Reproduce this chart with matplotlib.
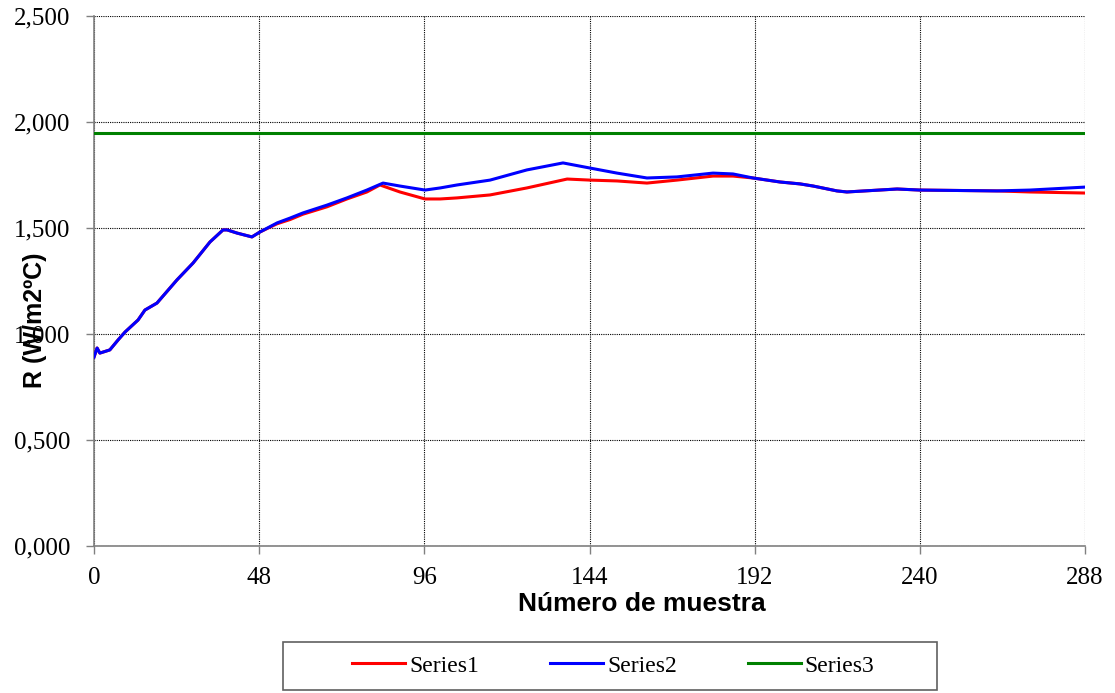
import matplotlib

matplotlib.use("Agg")
import matplotlib.pyplot as plt
from matplotlib.patches import Rectangle
from matplotlib.ticker import FuncFormatter

# Series1 (red)
s1_x = [0, 0.9, 1.7, 4.6, 7.0, 9.0, 12.8, 14.8, 18.3, 24.1, 28.8, 33.7, 37.5, 38.7,
        41.6, 45.9, 48.2, 53.2, 57.0, 60.7, 67.7, 73.5, 79.3, 83.1, 88.9, 96.2, 100.6,
        105.5, 115.1, 125.8, 137.5, 144.1, 152.0, 160.7, 169.4, 179.9, 185.7, 191.5,
        199.4, 205.2, 209.0, 215.9, 218.8, 233.4, 240.0, 262.4, 272.0, 288]
s1_y = [0.891, 0.934, 0.910, 0.925, 0.972, 1.009, 1.066, 1.113, 1.146, 1.255, 1.335,
        1.434, 1.491, 1.491, 1.476, 1.458, 1.481, 1.520, 1.540, 1.565, 1.600, 1.637,
        1.670, 1.703, 1.670, 1.637, 1.637, 1.642, 1.656, 1.689, 1.731, 1.726, 1.722,
        1.712, 1.726, 1.745, 1.745, 1.736, 1.717, 1.708, 1.698, 1.675, 1.670, 1.684,
        1.679, 1.675, 1.670, 1.665]

# Series2 (blue)
s2_x = [0, 0.9, 1.7, 4.6, 7.0, 9.0, 12.8, 14.8, 18.3, 24.1, 28.8, 33.7, 37.5, 38.7,
        41.6, 45.9, 48.2, 53.2, 57.0, 60.7, 67.7, 73.5, 79.3, 84.0, 88.9, 96.2, 100.6,
        105.5, 115.1, 125.8, 136.3, 144.1, 152.0, 160.7, 169.4, 179.9, 185.7, 191.5,
        199.4, 205.2, 209.0, 215.9, 218.8, 233.4, 240.0, 262.4, 272.0, 288]
s2_y = [0.891, 0.934, 0.910, 0.925, 0.972, 1.009, 1.066, 1.113, 1.146, 1.255, 1.335,
        1.434, 1.491, 1.491, 1.476, 1.458, 1.481, 1.524, 1.547, 1.571, 1.608, 1.642,
        1.679, 1.712, 1.698, 1.679, 1.689, 1.703, 1.726, 1.774, 1.807, 1.783, 1.759,
        1.736, 1.741, 1.759, 1.755, 1.736, 1.717, 1.708, 1.698, 1.675, 1.670, 1.684,
        1.679, 1.675, 1.679, 1.693]

# Series3 (green reference level)
s3_x = [0, 288]
s3_y = [1.95, 1.95]

x_ticks = [0, 48, 96, 144, 192, 240, 288]
y_ticks = [0.0, 0.5, 1.0, 1.5, 2.0, 2.5]

serif = "Liberation Serif"
sans = "Liberation Sans"

fig = plt.figure(figsize=(11.15, 6.93), dpi=100)
ax = fig.add_axes([0.0843, 0.2121, 0.8888, 0.7648])

ax.plot(s1_x, s1_y, color="#ff0000", lw=2.2, label="Series1", zorder=3)
ax.plot(s2_x, s2_y, color="#0000ff", lw=2.2, label="Series2", zorder=4)
ax.plot(s3_x, s3_y, color="#008000", lw=2.2, label="Series3", zorder=3)

ax.set_xlim(0, 288)
ax.set_ylim(0, 2.5)
ax.set_xticks(x_ticks)
ax.set_yticks(y_ticks)
ax.yaxis.set_major_formatter(FuncFormatter(lambda v, _: f"{v:.3f}".replace(".", ",")))

ax.grid(True, color="black", linestyle=(0, (1, 1)), linewidth=0.8)
ax.set_axisbelow(True)
for side in ("top", "right"):
    ax.spines[side].set_visible(False)
for side in ("left", "bottom"):
    ax.spines[side].set_color("#808080")
    ax.spines[side].set_linewidth(1.2)

ax.tick_params(axis="both", direction="out", length=6, width=1, color="#808080",
               labelsize=18)
ax.tick_params(axis="y", pad=11)
ax.tick_params(axis="x", pad=9)
for lbl in ax.get_xticklabels() + ax.get_yticklabels():
    lbl.set_fontfamily(serif)

ax.set_xlabel("Número de muestra", fontsize=19, fontweight="bold", family=sans)
ax.set_ylabel("R (W/m2ºC)", fontsize=18, fontweight="bold", family=sans)
ax.xaxis.set_label_coords(0.553, -0.087)
ax.yaxis.set_label_coords(-0.047, 0.426)

# legend box along the bottom edge
fig.add_artist(Rectangle((283 / 1115, 3 / 693), 654 / 1115, 48 / 693,
                         transform=fig.transFigure, fill=False,
                         edgecolor="#606060", linewidth=1.2))
handles, labels = ax.get_legend_handles_labels()
fig.legend(handles, labels, loc="center", bbox_to_anchor=(0.550, 0.039), ncol=3,
           frameon=False, prop={"family": serif, "size": 17},
           handlelength=2.25, handletextpad=0.17, columnspacing=3.0)

fig.savefig("out.png", dpi=100)
